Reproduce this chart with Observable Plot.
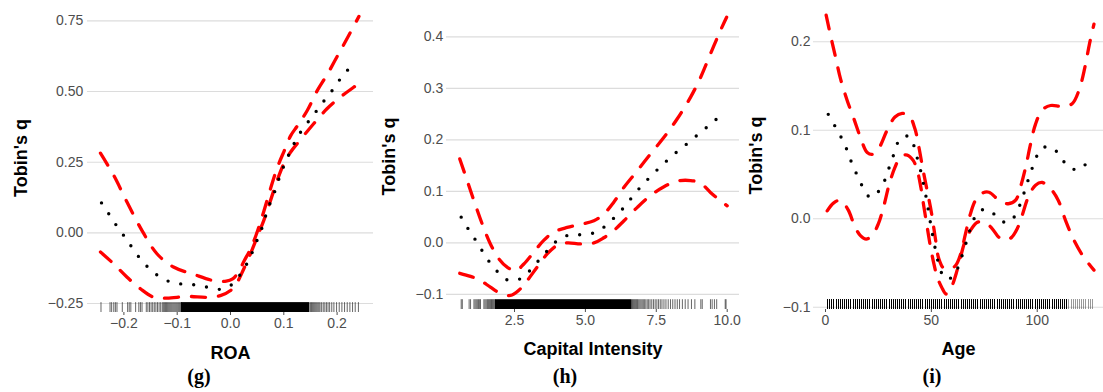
<!DOCTYPE html>
<html>
<head>
<meta charset="utf-8">
<script src="https://cdn.jsdelivr.net/npm/d3@7"></script>
<script src="https://cdn.jsdelivr.net/npm/@observablehq/plot@0.6"></script>
<style>
  body { margin: 0; background: #fff; }
  #wrap { position: relative; width: 1103px; height: 392px; overflow: hidden; background: #fff; }
  .panel { position: absolute; top: 0; }
  .cap { position: absolute; top: 366px; line-height: 1; font-family: "Liberation Serif", "DejaVu Serif", serif; font-weight: bold; font-size: 20px; color: #000; transform: translateX(-50%); white-space: nowrap; }
  g[aria-label="x-axis label"] text, g[aria-label="y-axis label"] text { font-weight: bold; font-size: 18px; fill: #000; }
</style>
</head>
<body>
<div id="wrap"></div>
<script>
// ---------- Panel (g): ROA ----------
const roaXTicks = [-0.2, -0.1, 0.0, 0.1, 0.2];
const roaYTicks = [-0.25, 0.0, 0.25, 0.5, 0.75];
const roaMid = [[-0.242,0.106],[-0.228,0.066],[-0.214,0.026],[-0.199,-0.013],[-0.185,-0.051],[-0.170,-0.090],[-0.153,-0.125],[-0.134,-0.154],[-0.111,-0.175],[-0.086,-0.182],[-0.061,-0.185],[-0.037,-0.195],[-0.013,-0.199],[0.009,-0.172],[0.024,-0.129],[0.036,-0.092],[0.045,-0.047],[0.055,-0.004],[0.063,0.041],[0.070,0.085],[0.080,0.130],[0.088,0.175],[0.096,0.218],[0.106,0.262],[0.117,0.307],[0.128,0.346],[0.143,0.386],[0.158,0.423],[0.173,0.461],[0.189,0.499],[0.203,0.537],[0.219,0.574],[0.233,0.613]];
const roaUpper = [[-0.244,0.282],[-0.219,0.203],[-0.194,0.108],[-0.166,0.008],[-0.138,-0.074],[-0.107,-0.121],[-0.069,-0.147],[-0.032,-0.169],[-0.008,-0.171],[0.004,-0.163],[0.014,-0.141],[0.026,-0.098],[0.039,-0.051],[0.051,0.008],[0.063,0.079],[0.076,0.162],[0.088,0.232],[0.101,0.291],[0.113,0.344],[0.126,0.380],[0.144,0.433],[0.163,0.504],[0.182,0.562],[0.201,0.627],[0.220,0.692],[0.241,0.766]];
const roaLower = [[-0.244,-0.068],[-0.219,-0.110],[-0.194,-0.157],[-0.169,-0.198],[-0.144,-0.228],[-0.119,-0.231],[-0.081,-0.225],[-0.044,-0.228],[-0.019,-0.222],[0.0,-0.204],[0.0125,-0.175],[0.025,-0.127],[0.0375,-0.074],[0.05,-0.015],[0.0625,0.044],[0.075,0.114],[0.0875,0.185],[0.1,0.244],[0.1125,0.285],[0.131,0.329],[0.156,0.386],[0.181,0.439],[0.206,0.480],[0.231,0.515],[0.243,0.532]];
const roaRugSparse = [-0.243,-0.226,-0.223,-0.219,-0.216,-0.213,-0.203,-0.193,-0.190,-0.187,-0.178,-0.172,-0.169,-0.166,-0.158,-0.155,-0.152,-0.149,-0.146,-0.143,-0.140,-0.137,-0.134,-0.131,-0.128,-0.126,-0.124,-0.122,-0.120,-0.118,-0.116,-0.114,-0.112,-0.110,-0.108,-0.106,-0.104,-0.102,-0.100,-0.098,-0.096,-0.094,-0.092,0.150,0.152,0.154,0.156,0.158,0.160,0.162,0.164,0.166,0.168,0.171,0.174,0.177,0.180,0.183,0.186,0.190,0.194,0.199,0.204,0.209,0.214,0.219,0.224,0.229,0.234,0.240];
const roaRugDense = [[-0.092, 0.149]];

// ---------- Panel (h): Capital Intensity ----------
const capXTicks = [2.5, 5.0, 7.5, 10.0];
const capYTicks = [-0.1, 0.0, 0.1, 0.2, 0.3, 0.4];
const capMid = [[0.62,0.050],[0.87,0.027],[1.12,0.006],[1.37,-0.016],[1.63,-0.038],[1.94,-0.058],[2.30,-0.073],[2.77,-0.068],[3.10,-0.050],[3.40,-0.031],[3.71,-0.012],[4.04,0.006],[4.48,0.016],[4.94,0.016],[5.42,0.022],[5.79,0.037],[6.12,0.055],[6.44,0.074],[6.73,0.095],[7.04,0.114],[7.37,0.133],[7.71,0.151],[8.06,0.169],[8.42,0.185],[8.79,0.202],[9.14,0.218],[9.51,0.235],[9.88,0.252]];
const capUpper = [[0.57,0.163],[0.83,0.121],[1.07,0.082],[1.36,0.037],[1.65,-0.002],[1.95,-0.031],[2.24,-0.047],[2.54,-0.054],[2.83,-0.041],[3.18,-0.018],[3.53,0.005],[3.89,0.021],[4.36,0.030],[4.83,0.036],[5.30,0.043],[5.65,0.056],[6.00,0.079],[6.36,0.108],[6.83,0.140],[7.30,0.173],[7.77,0.205],[8.24,0.241],[8.71,0.283],[9.06,0.321],[9.41,0.367],[9.76,0.412],[9.98,0.438]];
const capLower = [[0.57,-0.059],[0.95,-0.065],[1.30,-0.073],[1.65,-0.086],[2.00,-0.098],[2.36,-0.102],[2.65,-0.092],[2.95,-0.073],[3.30,-0.047],[3.66,-0.021],[4.00,-0.005],[4.36,0.0],[4.83,-0.002],[5.30,0.0],[5.65,0.010],[6.00,0.024],[6.36,0.043],[6.83,0.069],[7.30,0.092],[7.77,0.109],[8.24,0.120],[8.71,0.121],[9.06,0.116],[9.41,0.098],[9.76,0.082],[10.0,0.072]];
const capRugSparse = [0.62,0.66,0.90,0.95,1.07,1.11,1.15,1.19,1.23,1.27,1.30,1.42,1.46,1.50,1.54,1.57,1.60,1.63,1.66,1.69,1.72,1.75,1.78,1.81,6.66,6.69,6.72,6.75,6.78,6.81,6.84,6.88,6.92,6.96,7.00,7.04,7.08,7.13,7.18,7.23,7.28,7.34,7.40,7.46,7.52,7.58,7.64,7.70,7.77,7.84,7.92,8.00,8.08,8.16,8.24,8.32,8.42,8.52,8.62,8.74,8.86,9.07,9.12,9.41,9.47,9.55,9.63,9.93,9.96];
const capRugDense = [[1.83, 6.65]];

// ---------- Panel (i): Age ----------
const ageXTicks = [0, 50, 100];
const ageYTicks = [-0.1, 0.0, 0.1, 0.2];
const ageMid = [[1.3,0.118],[4.4,0.105],[7.6,0.091],[10.1,0.078],[12.4,0.063],[14.8,0.050],[17.6,0.036],[21.3,0.024],[26.0,0.034],[28.7,0.048],[30.6,0.062],[32.8,0.076],[35.3,0.091],[39.7,0.093],[42.2,0.079],[43.8,0.064],[45.4,0.050],[46.6,0.035],[47.9,0.020],[48.8,0.006],[49.9,-0.009],[51.0,-0.024],[52.4,-0.040],[53.9,-0.055],[56.7,-0.068],[60.9,-0.064],[63.3,-0.049],[65.5,-0.035],[67.2,-0.020],[69.3,-0.006],[72.0,0.008],[77.5,0.010],[81.9,-0.001],[86.9,-0.004],[90.6,0.009],[92.9,0.023],[94.8,0.037],[96.7,0.051],[98.9,0.065],[101.7,0.079],[106.8,0.081],[111.0,0.070],[115.0,0.058],[120.5,0.056],[124.4,0.068]];
const ageUpper = [[0.3,0.230],[2.4,0.207],[4.7,0.183],[7.1,0.158],[10.2,0.134],[13.4,0.113],[16.5,0.092],[19.7,0.075],[22.4,0.073],[25.5,0.081],[29.1,0.100],[32.8,0.115],[36.2,0.119],[39.4,0.117],[42.2,0.102],[44.1,0.081],[46.0,0.056],[48.0,0.032],[50.1,0.006],[52.0,-0.024],[53.5,-0.045],[55.9,-0.056],[59.1,-0.056],[61.4,-0.053],[63.8,-0.040],[66.1,-0.017],[68.5,0.006],[70.9,0.021],[74.0,0.029],[77.2,0.030],[81.9,0.021],[86.3,0.017],[89.8,0.021],[92.1,0.036],[94.5,0.058],[96.9,0.085],[99.2,0.107],[102.4,0.123],[106.3,0.128],[111.8,0.127],[116.5,0.130],[119.7,0.145],[122.5,0.171],[124.7,0.198],[126.8,0.220]];
const ageLower = [[0.8,0.009],[3.9,0.018],[7.1,0.021],[10.7,0.010],[13.9,-0.009],[16.5,-0.019],[19.2,-0.023],[22.0,-0.019],[24.9,-0.006],[27.6,0.015],[30.2,0.040],[32.8,0.058],[35.4,0.070],[38.6,0.072],[41.4,0.066],[43.3,0.055],[45.0,0.036],[46.5,0.013],[48.0,-0.009],[49.6,-0.032],[51.2,-0.051],[52.8,-0.066],[54.8,-0.077],[57.0,-0.085],[59.5,-0.077],[61.7,-0.062],[63.8,-0.043],[66.1,-0.024],[68.5,-0.013],[71.7,-0.004],[75.3,-0.004],[78.7,-0.011],[81.9,-0.021],[84.7,-0.024],[87.9,-0.021],[90.6,-0.011],[92.9,0.004],[95.7,0.024],[99.2,0.038],[102.4,0.041],[106.3,0.034],[109.9,0.021],[113.4,-0.002],[117.3,-0.024],[121.3,-0.041],[124.4,-0.051],[126.8,-0.058]];
const ageRugCommon = [1,2,3,4,5,6,7,8,9,10,11,12,13,14,15,16,17,18,19,20,21,22,23,24,25,26,27,28,29,30,31,32,33,34,35,36,37,38,39,40,41,42,43,44,45,46,47,48,49,50,51,52,53,54,55,56,57,58,59,60,61,62,63,64,65,66,67,68,69,70,71,72,73,74,75,76,77,78,79,80,81,82,83,84,85,86,87,88,89,90,91,92,93,94,95,96,97,98,99,100,101,102,103,104,105,106,107,108,109,110,111,112,113,114];
const ageRugRare = [115,116,117,118,119,120,121,122,123,124,125,126];

const yTitle = "Tobin's q";

function panel(o) {
  const H = 365;
  const frameH = H - o.marginTop - o.marginBottom;
  const rugLen = 0.032 * frameH;
  const dash = {stroke: "#ff0000", strokeWidth: 3.3, strokeDasharray: "14,13", strokeLinecap: "round", curve: "catmull-rom"};
  const marks = [
    Plot.gridY(o.yTicks, {stroke: "#dcdcdc", strokeOpacity: 1, strokeWidth: 1.1}),
  ];
  if (o.rugDense) marks.push(Plot.rect(o.rugDense, {x1: d => d[0], x2: d => d[1], insetTop: frameH - rugLen, fill: "#000"}));
  marks.push(Plot.ruleX(o.rugSparse, {x: d => d, insetTop: frameH - rugLen, stroke: "#000", strokeOpacity: o.rugOpacity, strokeWidth: o.rugWidth, shapeRendering: o.crisp ? "crispEdges" : "auto"}));
  if (o.rugRare) marks.push(Plot.ruleX(o.rugRare, {x: d => d, insetTop: frameH - rugLen, stroke: "#000", strokeOpacity: 0.4, strokeWidth: o.rugWidth, shapeRendering: o.crisp ? "crispEdges" : "auto"}));
  marks.push(
    Plot.line(o.upper, {x: d => d[0], y: d => d[1], ...dash}),
    Plot.line(o.lower, {x: d => d[0], y: d => d[1], ...dash}),
    Plot.line(o.mid, {x: d => d[0], y: d => d[1], stroke: "#000", strokeWidth: 3.4, strokeDasharray: "0,13", strokeLinecap: "round", curve: "catmull-rom"}),
    Plot.axisX(o.xTicks, {tickFormat: o.xFmt, tickSize: 3, tickPadding: o.xPad, color: "#4d4d4d", label: o.xLabel, labelAnchor: "center", labelArrow: "none", labelOffset: o.xLabelOffset}),
    Plot.axisY(o.yTicks, {tickFormat: o.yFmt, tickSize: 0, tickPadding: o.yPad, color: "#4d4d4d", label: yTitle, labelAnchor: "center", labelArrow: "none", labelOffset: o.yLabelOffset})
  );
  const svg = Plot.plot({
    width: o.width, height: H,
    marginLeft: o.marginLeft, marginRight: 0, marginTop: o.marginTop, marginBottom: o.marginBottom,
    style: {fontFamily: "'Liberation Sans', Arial, sans-serif", fontSize: "14px", background: "transparent", overflow: "visible"},
    x: {domain: o.xDomain},
    y: {domain: o.yDomain},
    marks
  });
  const div = document.createElement("div");
  div.className = "panel";
  div.style.left = o.left + "px";
  div.appendChild(svg);
  document.getElementById("wrap").appendChild(div);
  const cap = document.createElement("div");
  cap.className = "cap";
  cap.style.left = o.capX + "px";
  cap.textContent = o.caption;
  document.getElementById("wrap").appendChild(cap);
}

panel({left: 0, width: 373, marginLeft: 87, marginTop: 3, marginBottom: 53,
  xDomain: [-0.2683, 0.2683], yDomain: [-0.2819, 0.8115],
  xTicks: roaXTicks, yTicks: roaYTicks, xFmt: d3.format(".1f"), yFmt: d3.format(".2f"),
  xPad: 3, yPad: 4.3, xLabel: "ROA", xLabelOffset: 46, yLabelOffset: 73,
  upper: roaUpper, lower: roaLower, mid: roaMid,
  rugSparse: roaRugSparse, rugDense: roaRugDense, rugOpacity: 0.6, rugWidth: 1,
  caption: "(g)", capX: 199});

panel({left: 373, width: 366, marginLeft: 73, marginTop: 3, marginBottom: 56,
  xDomain: [0.102, 10.434], yDomain: [-0.1293, 0.4647],
  xTicks: capXTicks, yTicks: capYTicks, xFmt: d3.format(".1f"), yFmt: d3.format(".1f"),
  xPad: 3, yPad: 3.3, xLabel: "Capital Intensity", xLabelOffset: 45.5, yLabelOffset: 64.3,
  upper: capUpper, lower: capLower, mid: capMid,
  rugSparse: capRugSparse, rugDense: capRugDense, rugOpacity: 0.6, rugWidth: 1,
  caption: "(h)", capX: 565});

panel({left: 739, width: 364, marginLeft: 74, marginTop: 1, marginBottom: 56,
  xDomain: [-5.67, 131.3], yDomain: [-0.1025, 0.2455],
  xTicks: ageXTicks, yTicks: ageYTicks, xFmt: d3.format("d"), yFmt: d3.format(".1f"),
  xPad: 2.5, yPad: 3, xLabel: "Age", xLabelOffset: 45, yLabelOffset: 64.7,
  upper: ageUpper, lower: ageLower, mid: ageMid,
  rugSparse: ageRugCommon, rugRare: ageRugRare, rugOpacity: 1, rugWidth: 1, crisp: true,
  caption: "(i)", capX: 932});
</script>
</body>
</html>
